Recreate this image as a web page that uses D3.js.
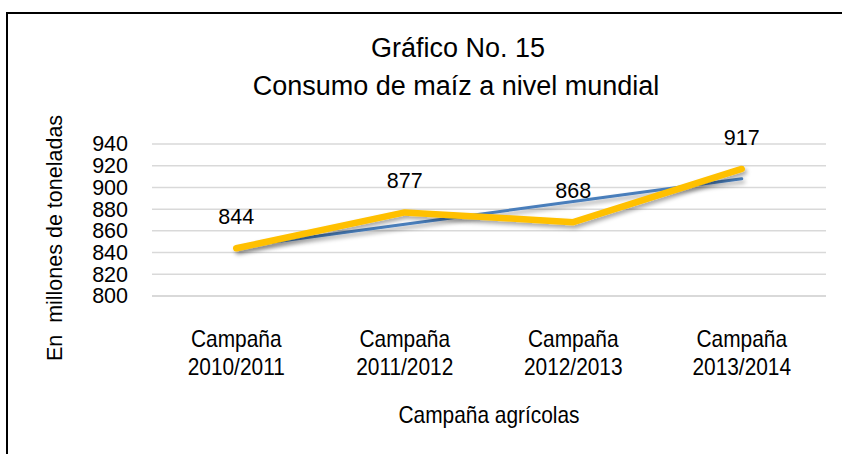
<!DOCTYPE html>
<html>
<head>
<meta charset="utf-8">
<script src="https://cdn.jsdelivr.net/npm/d3@7"></script>
<style>
  body { margin: 0; background: #fff; }
  svg { display: block; }
</style>
</head>
<body>
<div id="chart"></div>
<script>
// chart values
const campaigns = ["Campaña 2010/2011", "Campaña 2011/2012", "Campaña 2012/2013", "Campaña 2013/2014"];
const consumo = [844, 877, 868, 917];
const tendencia = [845, 866, 887, 908];   // linear trend line as drawn
const yTicks = [800, 820, 840, 860, 880, 900, 920, 940];

const W = 842, H = 454;
const margin = { top: 144, right: 16, bottom: 158, left: 152 };
const width = W - margin.left - margin.right,
      height = H - margin.top - margin.bottom;

const font = "'Liberation Sans', Arial, sans-serif";
const squeeze = 0.87;   // narrow look of the original labels

const root = d3.select("#chart").append("svg")
    .attr("width", W).attr("height", H);

// drop shadow for the lines
const defs = root.append("defs");
const f = defs.append("filter").attr("id", "shadow")
    .attr("x", "-10%").attr("y", "-30%").attr("width", "130%").attr("height", "180%");
f.append("feDropShadow").attr("dx", 2).attr("dy", 3).attr("stdDeviation", 2)
    .attr("flood-color", "#000").attr("flood-opacity", 0.35);

// outer frame
root.append("path")
    .attr("d", `M${W + 5},13 H7 V${H + 5}`)
    .attr("fill", "none").attr("stroke", "#000").attr("stroke-width", 2);

const svg = root.append("g").attr("transform", `translate(${margin.left},${margin.top})`);

const x = d3.scaleBand().domain(campaigns).range([0, width]);
const y = d3.scaleLinear().domain([800, 940]).range([height, 0]);

// gridlines
svg.append("g")
   .selectAll("line")
   .data(yTicks)
   .enter().append("line")
   .attr("x1", 0).attr("x2", width)
   .attr("y1", d => y(d)).attr("y2", d => y(d))
   .attr("stroke", "#d9d9d9")
   .attr("stroke-width", d => d === 800 ? 2 : 1.5);

// y axis labels
const yAxis = svg.append("g")
   .call(d3.axisLeft(y).tickValues(yTicks).tickSize(0).tickPadding(24));
yAxis.select(".domain").remove();
yAxis.selectAll("text")
   .style("font-family", font).style("font-size", "21.5px").attr("fill", "#000");

// x axis labels (two lines)
const xAxis = svg.append("g")
   .attr("transform", `translate(0,${height})`)
   .call(d3.axisBottom(x).tickSize(0).tickFormat(""));
xAxis.select(".domain").remove();
xAxis.selectAll(".tick").each(function(d) {
    const parts = d.split(" ");
    const t = d3.select(this).append("text")
        .attr("text-anchor", "middle")
        .attr("transform", `scale(${squeeze},1)`)
        .attr("fill", "#000")
        .style("font-family", font).style("font-size", "24px");
    t.append("tspan").attr("x", 0).attr("y", 51).text(parts[0]);
    t.append("tspan").attr("x", 0).attr("y", 79).text(parts[1]);
});

const cx = d => x(d) + x.bandwidth() / 2;

// trend line
const line = d3.line().x((d, i) => cx(campaigns[i])).y(d => y(d));
svg.append("path")
   .datum(tendencia)
   .attr("d", line)
   .attr("fill", "none")
   .attr("stroke", "#4a7ebb")
   .attr("stroke-width", 3)
   .attr("stroke-linecap", "round")
   .attr("filter", "url(#shadow)");

// consumption line
svg.append("path")
   .datum(consumo)
   .attr("d", line)
   .attr("fill", "none")
   .attr("stroke", "#ffc000")
   .attr("stroke-width", 6.5)
   .attr("stroke-linejoin", "round")
   .attr("stroke-linecap", "round")
   .attr("filter", "url(#shadow)");

// data labels
svg.selectAll(".lbl")
   .data(consumo)
   .enter().append("text")
   .attr("class", "lbl")
   .attr("x", (d, i) => cx(campaigns[i]))
   .attr("y", d => y(d) - 24)
   .attr("text-anchor", "middle")
   .style("font-family", font).style("font-size", "21.5px")
   .text(d => d);

// title
root.append("text")
    .attr("x", 458).attr("y", 57)
    .attr("text-anchor", "middle")
    .style("font-family", font).style("font-size", "27px")
    .text("Gráfico No. 15");
root.append("text")
    .attr("x", 456).attr("y", 95)
    .attr("text-anchor", "middle")
    .style("font-family", font).style("font-size", "27px")
    .text("Consumo de maíz a nivel mundial");

// axis titles
root.append("text")
    .attr("transform", "translate(62,238) rotate(-90)")
    .attr("text-anchor", "middle")
    .style("font-family", font).style("font-size", "21.5px")
    .attr("xml:space", "preserve")
    .text("En  millones de toneladas");

root.append("text")
    .attr("transform", `translate(489,423) scale(${squeeze},1)`)
    .attr("text-anchor", "middle")
    .style("font-family", font).style("font-size", "24px")
    .text("Campaña agrícolas");
</script>
</body>
</html>
